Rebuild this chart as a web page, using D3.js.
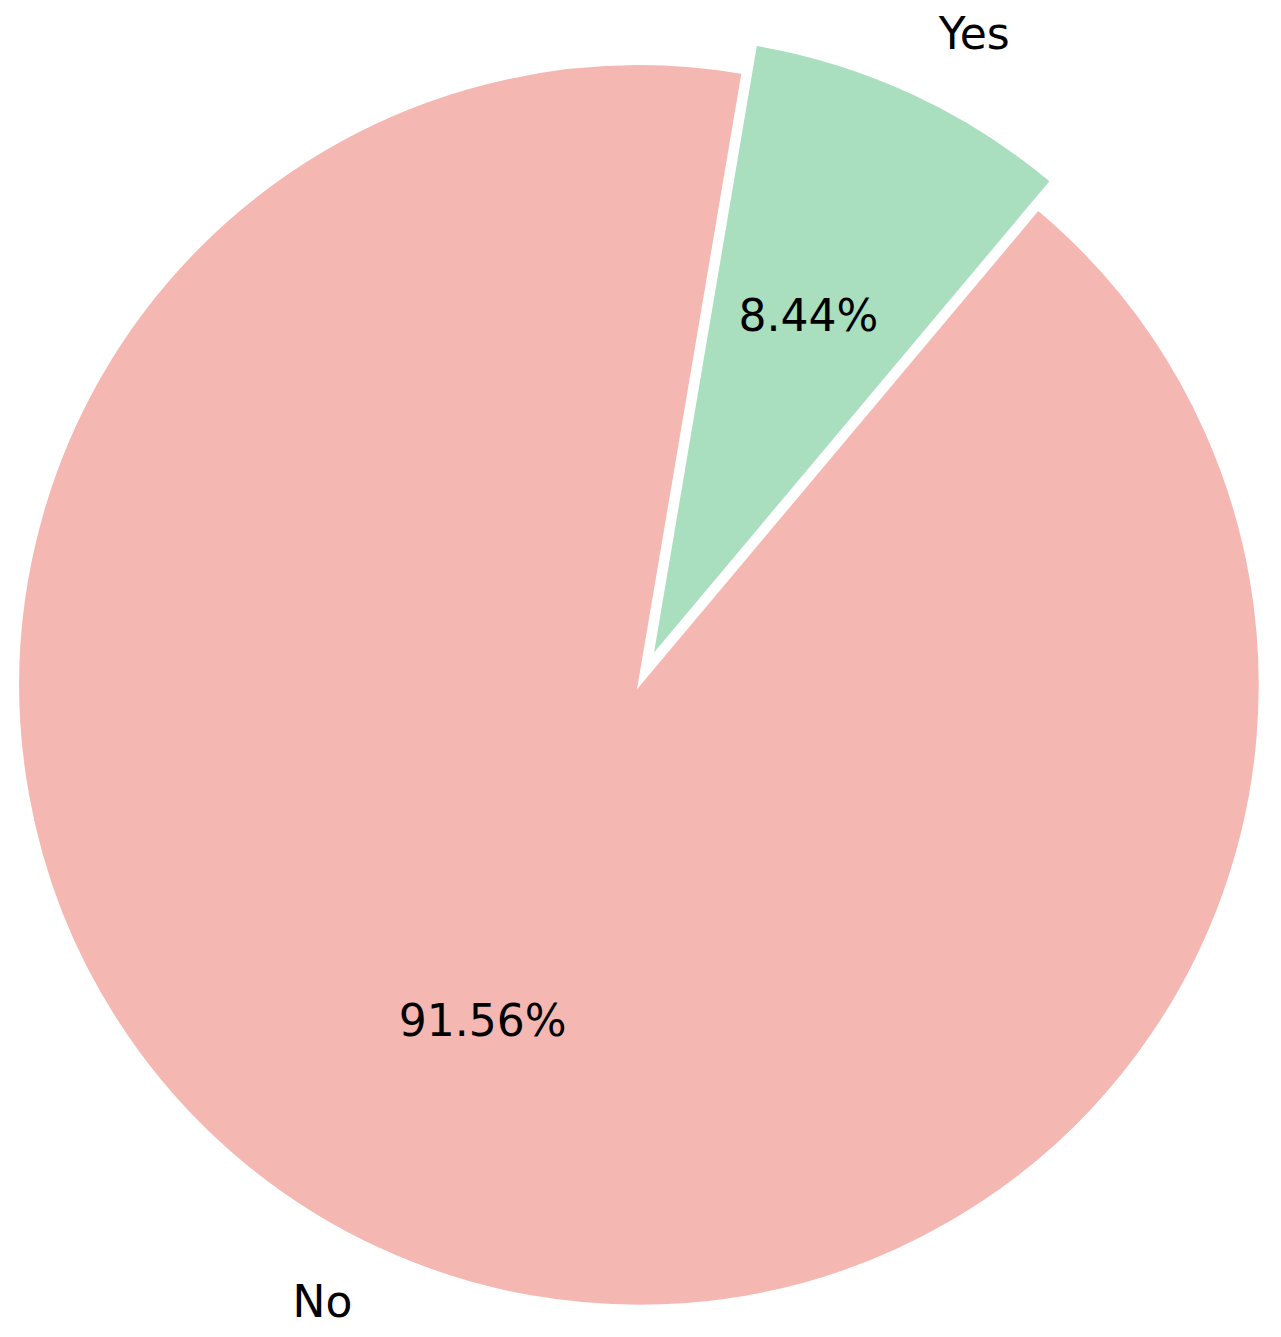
<!DOCTYPE html>
<html>
<head>
<meta charset="utf-8">
<script src="https://cdn.jsdelivr.net/npm/d3@7"></script>
<style>
  body { margin: 0; background: #fff; }
  text { font-family: "DejaVu Sans", sans-serif; }
</style>
</head>
<body>
<script>
var width = 1281,
    height = 1337;

// data
var labels = ["No", "Yes"];
var shares = [91.56, 8.44];
var colors = ["#F5B7B1", "#A9DFBF"];
var explode = [0, 0.05];

var cx = 639,
    cy = 685,
    radius = 621;

var fontSize = 44;

var svg = d3.select("body").append("svg")
    .attr("width", width)
    .attr("height", height);

var deg = Math.PI / 180;

var pie = d3.pie()
    .sort(null)
    .value(function(d) { return d; })
    .startAngle(40 * deg)
    .endAngle(400 * deg);

var arcs = pie(shares);

var arc = d3.arc()
    .innerRadius(0)
    .outerRadius(radius);

function offset(d, i) {
  var mid = (d.startAngle + d.endAngle) / 2;
  var r = explode[i] * radius;
  return [r * Math.sin(mid), -r * Math.cos(mid)];
}

var g = svg.append("g")
    .attr("transform", "translate(" + cx + "," + cy + ")");

var slices = g.selectAll("g.slice")
    .data(arcs)
    .enter().append("g")
    .attr("class", "slice")
    .attr("transform", function(d, i) {
      var o = offset(d, i);
      return "translate(" + o[0] + "," + o[1] + ")";
    });

slices.append("path")
    .attr("d", arc)
    .attr("fill", function(d, i) { return colors[i]; })
    .attr("stroke", "#fff")
    .attr("stroke-width", 2.5)
    .attr("stroke-linejoin", "miter");

// outer labels at 1.1 * r
slices.append("text")
    .attr("x", function(d) {
      var mid = (d.startAngle + d.endAngle) / 2;
      return 1.1 * radius * Math.sin(mid);
    })
    .attr("y", function(d) {
      var mid = (d.startAngle + d.endAngle) / 2;
      return -1.1 * radius * Math.cos(mid);
    })
    .attr("dy", "0.28em")
    .attr("text-anchor", function(d) {
      var mid = (d.startAngle + d.endAngle) / 2;
      return Math.sin(mid) > 0 ? "start" : "end";
    })
    .attr("font-size", fontSize)
    .attr("fill", "#000")
    .text(function(d, i) { return labels[i]; });

// percentages at 0.6 * r
slices.append("text")
    .attr("x", function(d) {
      var mid = (d.startAngle + d.endAngle) / 2;
      return 0.6 * radius * Math.sin(mid);
    })
    .attr("y", function(d) {
      var mid = (d.startAngle + d.endAngle) / 2;
      return -0.6 * radius * Math.cos(mid);
    })
    .attr("dy", "0.28em")
    .attr("text-anchor", "middle")
    .attr("font-size", fontSize)
    .attr("fill", "#000")
    .text(function(d) { return d.data.toFixed(2) + "%"; });
</script>
</body>
</html>
